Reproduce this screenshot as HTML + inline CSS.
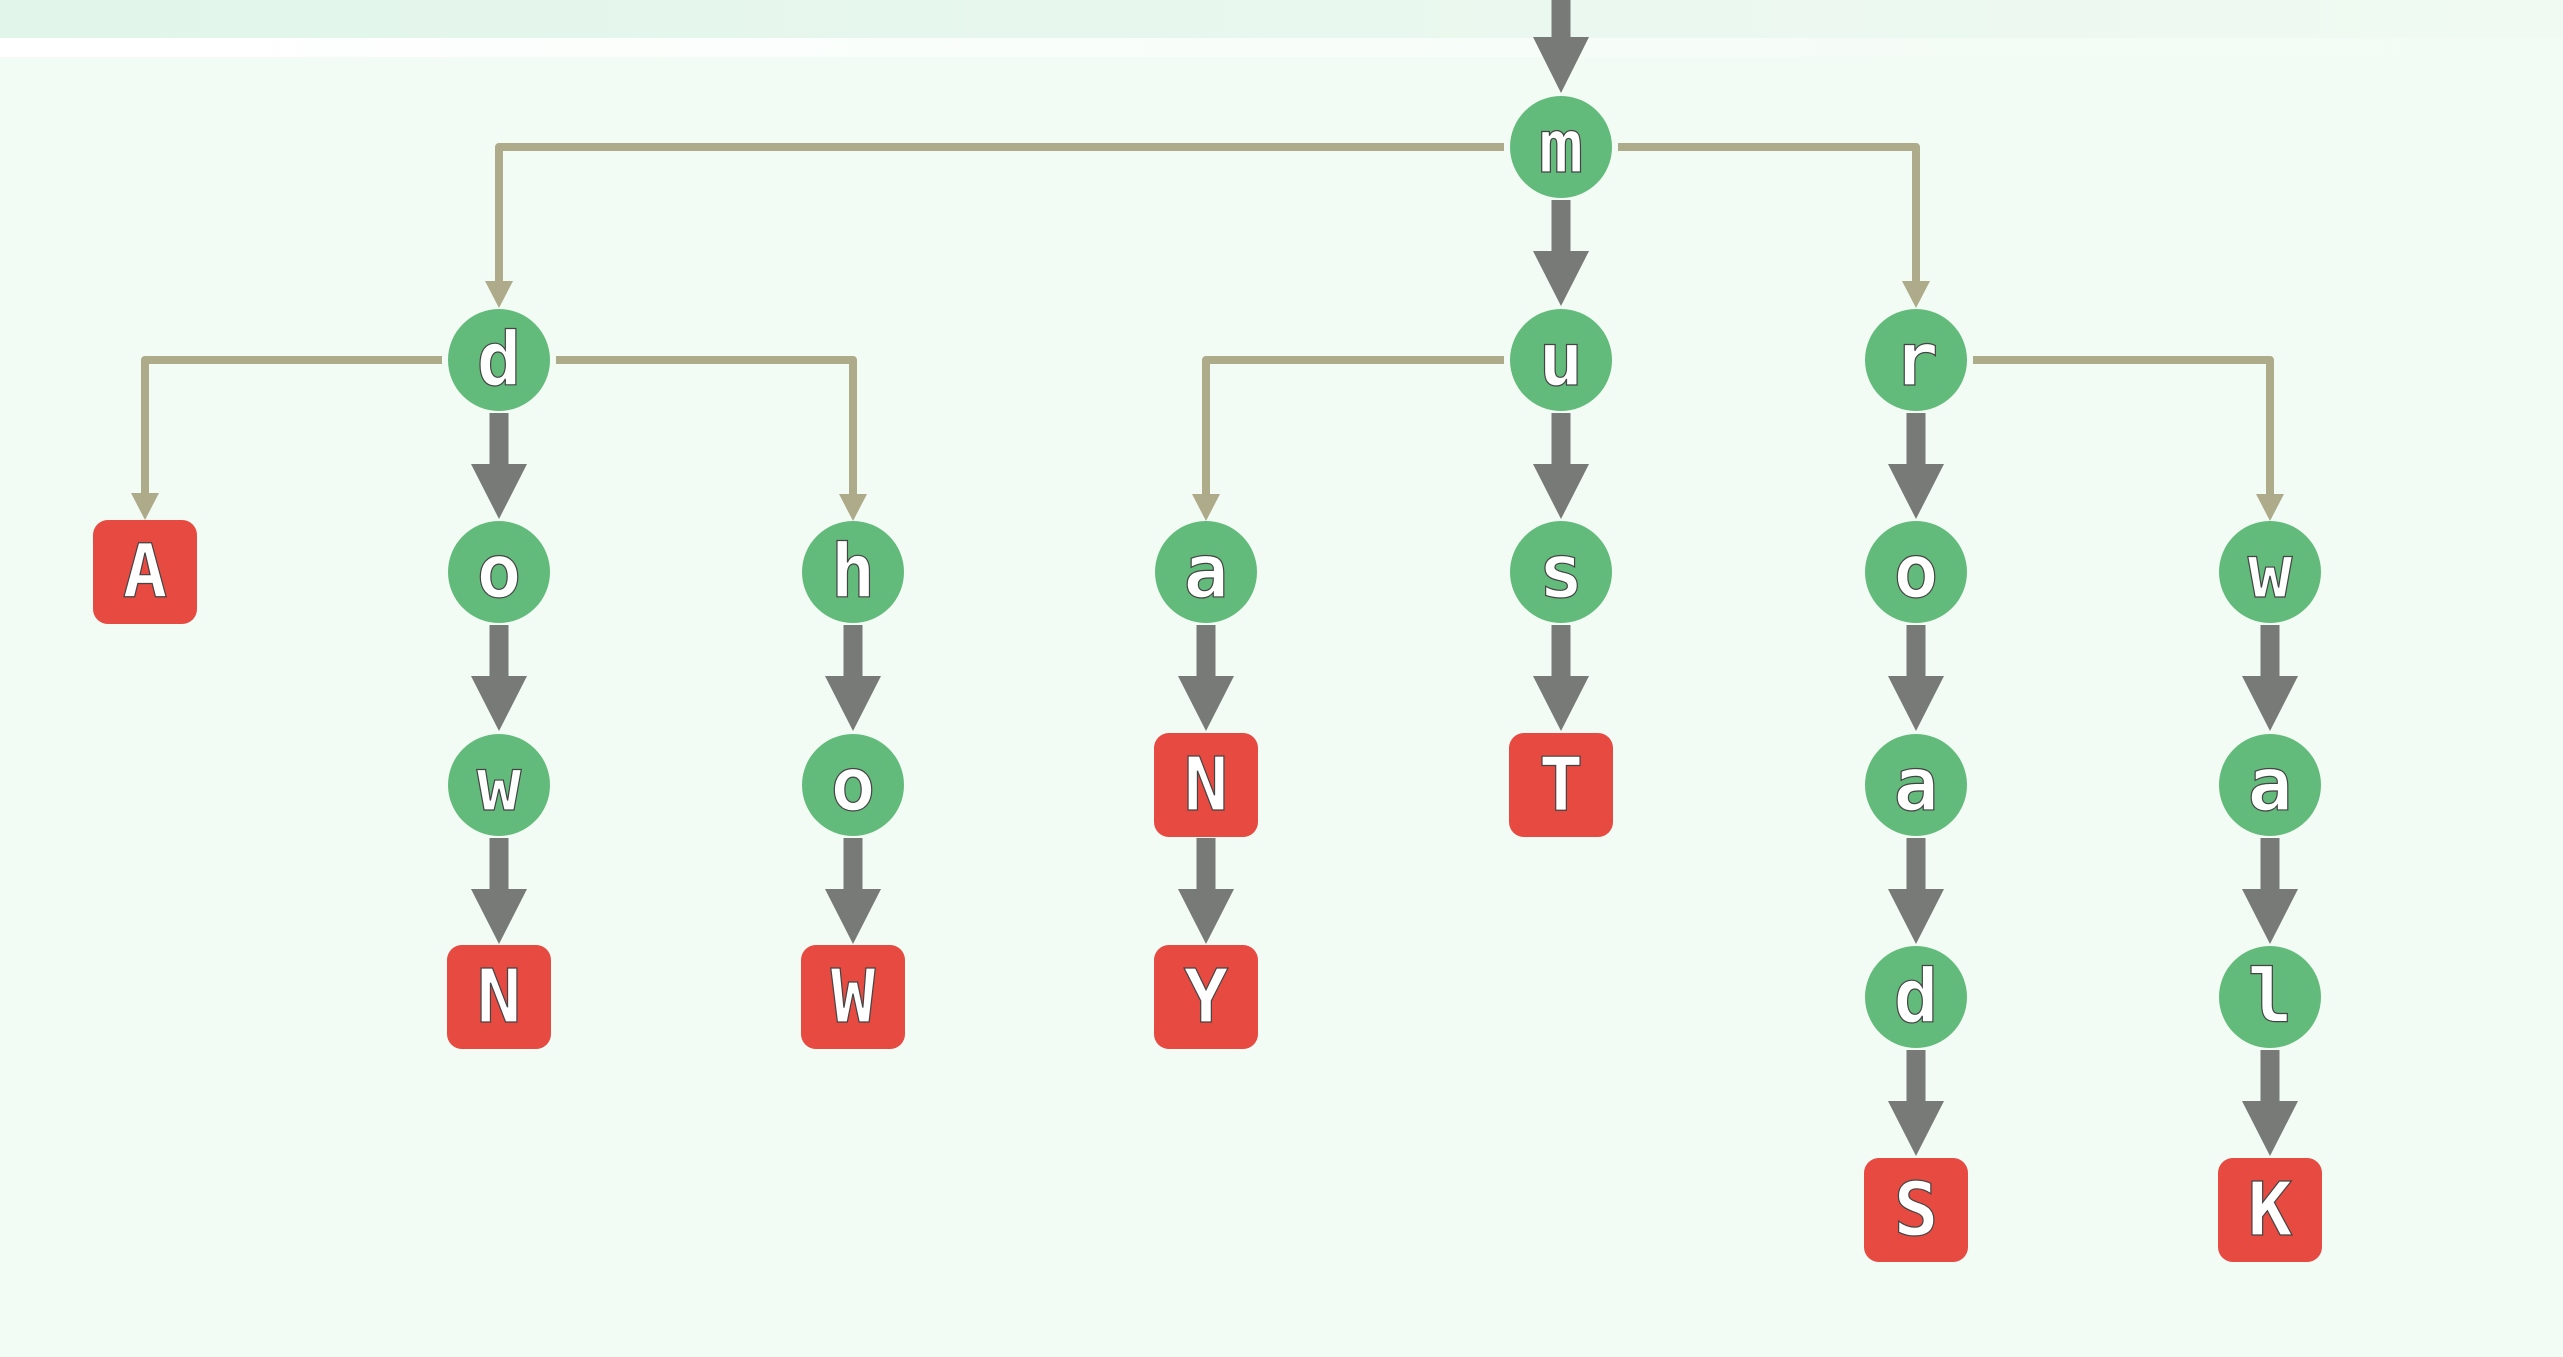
<!DOCTYPE html>
<html><head><meta charset="utf-8"><style>
html,body{margin:0;padding:0;width:2563px;height:1357px;overflow:hidden;background:#f2fbf4}
svg{display:block}
text{font-family:"DejaVu Sans Mono","Liberation Mono",monospace;font-size:74px;font-weight:bold;fill:#fff;stroke:#444;stroke-width:1.2;text-anchor:middle;dominant-baseline:central}
</style></head><body>
<svg width="2563" height="1357" viewBox="0 0 2563 1357">
<defs>
<linearGradient id="tb" x1="0" x2="1"><stop offset="0" stop-color="#e1f5ea"/><stop offset="1" stop-color="#f0faf2"/></linearGradient>
<linearGradient id="ws" x1="0" x2="1"><stop offset="0" stop-color="#ffffff"/><stop offset="0.8" stop-color="#f4fcf6"/><stop offset="1" stop-color="#f2fbf4"/></linearGradient>
</defs>
<rect x="0" y="0" width="2563" height="38" fill="url(#tb)"/>
<rect x="0" y="38" width="2563" height="19" fill="url(#ws)"/>
<g fill="none" stroke="#aeab8a" stroke-width="8" stroke-linejoin="round">
<polyline points="1504,147 499,147 499,282"/>
<polyline points="1618,147 1916,147 1916,282"/>
<polyline points="442,360 145,360 145,494"/>
<polyline points="556,360 853,360 853,495"/>
<polyline points="1504,360 1206,360 1206,495"/>
<polyline points="1973,360 2270,360 2270,495"/>
</g>
<g fill="#aeab8a">
<polygon points="485,281 513,281 499,308"/>
<polygon points="1902,281 1930,281 1916,308"/>
<polygon points="131,493 159,493 145,520"/>
<polygon points="839,494 867,494 853,521"/>
<polygon points="1192,494 1220,494 1206,521"/>
<polygon points="2256,494 2284,494 2270,521"/>
</g>
<g fill="#777a76">
<rect x="1551.5" y="0" width="19" height="38"/><polygon points="1533,37 1589,37 1561,93"/>
<rect x="1551.5" y="200" width="19" height="52"/><polygon points="1533,251 1589,251 1561,306"/>
<rect x="489.5" y="413" width="19" height="52"/><polygon points="471,464 527,464 499,519"/>
<rect x="489.5" y="625" width="19" height="52"/><polygon points="471,676 527,676 499,731"/>
<rect x="489.5" y="838" width="19" height="52"/><polygon points="471,889 527,889 499,944"/>
<rect x="843.5" y="625" width="19" height="52"/><polygon points="825,676 881,676 853,731"/>
<rect x="843.5" y="838" width="19" height="52"/><polygon points="825,889 881,889 853,944"/>
<rect x="1551.5" y="413" width="19" height="52"/><polygon points="1533,464 1589,464 1561,519"/>
<rect x="1551.5" y="625" width="19" height="52"/><polygon points="1533,676 1589,676 1561,731"/>
<rect x="1196.5" y="625" width="19" height="52"/><polygon points="1178,676 1234,676 1206,731"/>
<rect x="1196.5" y="838" width="19" height="52"/><polygon points="1178,889 1234,889 1206,944"/>
<rect x="1906.5" y="413" width="19" height="52"/><polygon points="1888,464 1944,464 1916,519"/>
<rect x="1906.5" y="625" width="19" height="52"/><polygon points="1888,676 1944,676 1916,731"/>
<rect x="1906.5" y="838" width="19" height="52"/><polygon points="1888,889 1944,889 1916,944"/>
<rect x="1906.5" y="1050" width="19" height="52"/><polygon points="1888,1101 1944,1101 1916,1156"/>
<rect x="2260.5" y="625" width="19" height="52"/><polygon points="2242,676 2298,676 2270,731"/>
<rect x="2260.5" y="838" width="19" height="52"/><polygon points="2242,889 2298,889 2270,944"/>
<rect x="2260.5" y="1050" width="19" height="52"/><polygon points="2242,1101 2298,1101 2270,1156"/>
</g>
<g fill="#62bb7b">
<circle cx="1561" cy="147" r="51"/>
<circle cx="499" cy="360" r="51"/>
<circle cx="1561" cy="360" r="51"/>
<circle cx="1916" cy="360" r="51"/>
<circle cx="499" cy="572" r="51"/>
<circle cx="853" cy="572" r="51"/>
<circle cx="1206" cy="572" r="51"/>
<circle cx="1561" cy="572" r="51"/>
<circle cx="1916" cy="572" r="51"/>
<circle cx="2270" cy="572" r="51"/>
<circle cx="499" cy="785" r="51"/>
<circle cx="853" cy="785" r="51"/>
<circle cx="1916" cy="785" r="51"/>
<circle cx="2270" cy="785" r="51"/>
<circle cx="1916" cy="997" r="51"/>
<circle cx="2270" cy="997" r="51"/>
</g>
<g fill="#e64a41">
<rect x="93" y="520" width="104" height="104" rx="15"/>
<rect x="1154" y="733" width="104" height="104" rx="15"/>
<rect x="1509" y="733" width="104" height="104" rx="15"/>
<rect x="447" y="945" width="104" height="104" rx="15"/>
<rect x="801" y="945" width="104" height="104" rx="15"/>
<rect x="1154" y="945" width="104" height="104" rx="15"/>
<rect x="1864" y="1158" width="104" height="104" rx="15"/>
<rect x="2218" y="1158" width="104" height="104" rx="15"/>
</g>
<text x="1561" y="147">m</text>
<text x="499" y="360">d</text>
<text x="1561" y="360">u</text>
<text x="1916" y="360">r</text>
<text x="145" y="572">A</text>
<text x="499" y="572">o</text>
<text x="853" y="572">h</text>
<text x="1206" y="572">a</text>
<text x="1561" y="572">s</text>
<text x="1916" y="572">o</text>
<text x="2270" y="572">w</text>
<text x="499" y="785">w</text>
<text x="853" y="785">o</text>
<text x="1206" y="785">N</text>
<text x="1561" y="785">T</text>
<text x="1916" y="785">a</text>
<text x="2270" y="785">a</text>
<text x="499" y="997">N</text>
<text x="853" y="997">W</text>
<text x="1206" y="997">Y</text>
<text x="1916" y="997">d</text>
<text x="2270" y="997">l</text>
<text x="1916" y="1210">S</text>
<text x="2270" y="1210">K</text>
</svg>
</body></html>
